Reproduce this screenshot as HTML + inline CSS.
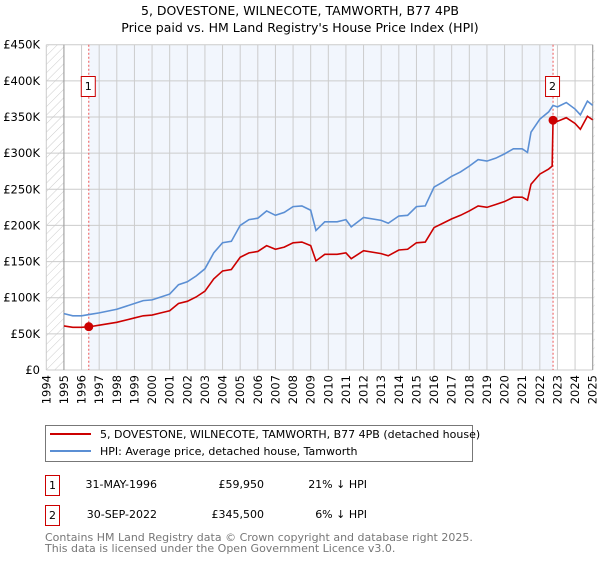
<!DOCTYPE html>
<html><head><meta charset="utf-8"><style>
body{margin:0;background:#fff;font-family:"DejaVu Sans","Liberation Sans",sans-serif;}
svg text{font-family:"DejaVu Sans","Liberation Sans",sans-serif;}
</style></head><body>
<svg id="chart" width="600" height="560" xmlns="http://www.w3.org/2000/svg">
<defs><pattern id="hatch" width="6" height="6" patternUnits="userSpaceOnUse" patternTransform="rotate(45)"><line x1="0" y1="0" x2="0" y2="6" stroke="#ccc" stroke-width="1"/></pattern></defs>
<text x="300" y="15" text-anchor="middle" font-size="12.5" fill="#000">5, DOVESTONE, WILNECOTE, TAMWORTH, B77 4PB</text>
<text x="300" y="32" text-anchor="middle" font-size="12.5" fill="#000">Price paid vs. HM Land Registry's House Price Index (HPI)</text>
<g id="plot"></g>
<g>
<rect x="45.5" y="425.5" width="427" height="36" fill="#fff" stroke="#777"/>
<line x1="50" y1="434" x2="91" y2="434" stroke="#cc0000" stroke-width="2"/>
<text x="100" y="438" font-size="11">5, DOVESTONE, WILNECOTE, TAMWORTH, B77 4PB (detached house)</text>
<line x1="50" y1="451" x2="91" y2="451" stroke="#5b8fd4" stroke-width="2"/>
<text x="100" y="455" font-size="11">HPI: Average price, detached house, Tamworth</text>
</g>
<g font-size="11">
<rect x="45.5" y="475.5" width="14" height="20" fill="#fff" stroke="#cc0000"/>
<text x="52.5" y="489" text-anchor="middle">1</text>
<text x="157" y="488" text-anchor="end">31-MAY-1996</text>
<text x="264" y="488" text-anchor="end">£59,950</text>
<text x="367" y="488" text-anchor="end">21% ↓ HPI</text>
</g>
<g font-size="11">
<rect x="45.5" y="505.5" width="14" height="20" fill="#fff" stroke="#cc0000"/>
<text x="52.5" y="519" text-anchor="middle">2</text>
<text x="157" y="518" text-anchor="end">30-SEP-2022</text>
<text x="264" y="518" text-anchor="end">£345,500</text>
<text x="367" y="518" text-anchor="end">6% ↓ HPI</text>
</g>
<text x="45" y="541" font-size="11" fill="#777">Contains HM Land Registry data © Crown copyright and database right 2025.</text>
<text x="45" y="552" font-size="11" fill="#777">This data is licensed under the Open Government Licence v3.0.</text>
</svg>
<script>
const yearTicks=[1994,1995,1996,1997,1998,1999,2000,2001,2002,2003,2004,2005,2006,2007,2008,2009,2010,2011,2012,2013,2014,2015,2016,2017,2018,2019,2020,2021,2022,2023,2024,2025];
const valueTicks=[0,50,100,150,200,250,300,350,400,450];
const valueLabels=["£0","£50K","£100K","£150K","£200K","£250K","£300K","£350K","£400K","£450K"];
const hpiYears=[1995,1995.5,1996,1996.5,1997,1998,1999,1999.5,2000,2000.5,2001,2001.5,2002,2002.5,2003,2003.5,2004,2004.5,2005,2005.5,2006,2006.5,2007,2007.5,2008,2008.5,2009,2009.3,2009.8,2010.5,2011,2011.3,2012,2013,2013.4,2014,2014.5,2015,2015.5,2016,2016.5,2017,2017.5,2018,2018.5,2019,2019.5,2020,2020.5,2021,2021.3,2021.5,2022,2022.5,2022.75,2023,2023.5,2024,2024.3,2024.7,2025];
const hpiValues=[78,75,75,77,79,84,92,96,97,101,105,118,122,130,140,162,176,178,200,208,210,220,214,218,226,227,221,193,205,205,208,198,211,207,203,213,214,226,227,253,260,268,274,282,291,289,293,299,306,306,301,329,347,357,366,364,370,361,353,372,366];
const priceYears=[1995,1995.5,1996,1996.5,1997,1998,1999,1999.5,2000,2000.5,2001,2001.5,2002,2002.5,2003,2003.5,2004,2004.5,2005,2005.5,2006,2006.5,2007,2007.5,2008,2008.5,2009,2009.3,2009.8,2010.5,2011,2011.3,2012,2013,2013.4,2014,2014.5,2015,2015.5,2016,2016.5,2017,2017.5,2018,2018.5,2019,2019.5,2020,2020.5,2021,2021.3,2021.5,2022,2022.5,2022.7,2022.75,2023,2023.5,2024,2024.3,2024.7,2025];
const priceValues=[61,59,59,60,62,66,72,75,76,79,82,92,95,101,109,126,137,139,156,162,164,172,167,170,176,177,172,151,160,160,162,154,165,161,158,166,167,176,177,197,203,209,214,220,227,225,229,233,239,239,235,257,271,278,282,345.5,344,349,341,333,351,346];
const saleYears=[1996.41,2022.75];
const saleValues=[59.95,345.5];
const saleLabels=["1","2"];

const NS="http://www.w3.org/2000/svg";
const X0=46.3,X1=592.7,Y0=370,Y1=44.7;
const xs=y=>X0+(y-1994)/31*(X1-X0);
const ys=v=>Y0-v/450*(Y0-Y1);
const plot=document.getElementById('plot');
function mk(tag,attrs){const e=document.createElementNS(NS,tag);for(const k in attrs)e.setAttribute(k,attrs[k]);plot.appendChild(e);return e;}
let e;
e=mk('rect',{x:X0,y:Y1,width:X1-X0,height:Y0-Y1,fill:'#fff'});


e=mk('rect',{x:xs(saleYears[0]),y:Y1,width:xs(saleYears[1])-xs(saleYears[0]),height:Y0-Y1,fill:'#f2f6fd'});


e=mk('rect',{x:X0,y:Y1,width:xs(1995)-X0,height:Y0-Y1,fill:'url(#hatch)'});


e=mk('rect',{x:xs(2025),y:Y1,width:X1+2-xs(2025),height:Y0-Y1,fill:'url(#hatch)'});


yearTicks.forEach(y=>{
 const x=xs(y);
 e=mk('line',{x1:x,y1:Y1,x2:x,y2:Y0,stroke:'#ccc','stroke-width':1});
 
 
 const t=mk('text',{x:0,y:0,'font-size':11.5,'text-anchor':'end',transform:`translate(${x+4},${Y0+5}) rotate(-90)`});
 t.textContent=y;
 
 
});
valueTicks.forEach((v,i)=>{
 const y=ys(v);
 e=mk('line',{x1:X0,y1:y,x2:X1,y2:y,stroke:'#ccc','stroke-width':1});
 
 
 const t=mk('text',{x:40,y:y+4,'font-size':11.5,'text-anchor':'end'});
 t.textContent=valueLabels[i];
 
 
});
e=mk('line',{x1:xs(1995),y1:Y1,x2:xs(1995),y2:Y0,stroke:'#999'});


e=mk('line',{x1:xs(2025),y1:Y1,x2:xs(2025),y2:Y0,stroke:'#999'});


saleYears.forEach((y,i)=>{
 const x=xs(y);
 e=mk('line',{x1:x,y1:Y1,x2:x,y2:Y0,stroke:'#ee5555','stroke-width':1,'stroke-dasharray':'2,2'});
 
 
});
e=mk('polyline',{points:hpiYears.map((y,i)=>xs(y)+','+ys(hpiValues[i])).join(' '),fill:'none',stroke:'#5b8fd4','stroke-width':1.6});


e=mk('polyline',{points:priceYears.map((y,i)=>xs(y)+','+ys(priceValues[i])).join(' '),fill:'none',stroke:'#cc0000','stroke-width':1.6});


saleYears.forEach((y,i)=>{
 const x=xs(y);
 e=mk('circle',{cx:x,cy:ys(saleValues[i]),r:4.5,fill:'#cc0000'});
 
 
 e=mk('rect',{x:x-7.5,y:76.5,width:14,height:20,fill:'#fff',stroke:'#cc0000'});
 
 
 const t=mk('text',{x:x-0.5,y:90,'font-size':11,'text-anchor':'middle'});
 t.textContent=saleLabels[i];
 
 
});
</script>
</body></html>
